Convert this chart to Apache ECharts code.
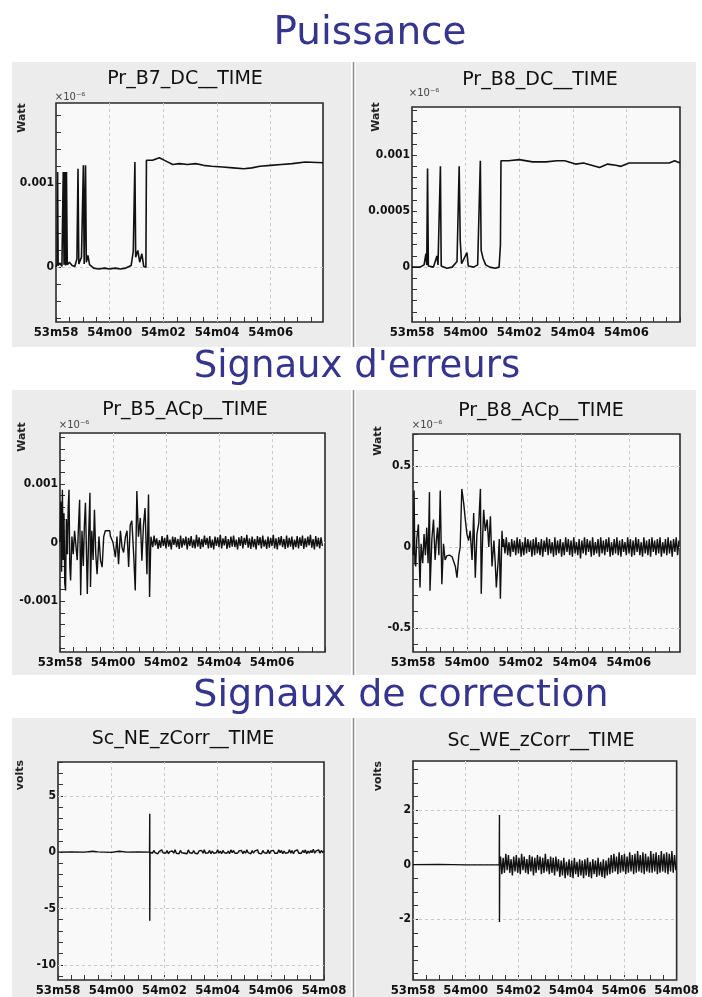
<!DOCTYPE html>
<html><head><meta charset="utf-8">
<script src="https://cdn.jsdelivr.net/npm/echarts@6/dist/echarts.min.js"></script>
<style>html,body{margin:0;padding:0;background:#fff}#c{width:702px;height:997px}</style>
</head><body><div id="c"></div>
<script>
// ---------- text ----------
const sectionTitles = ['Puissance', "Signaux d'erreurs", 'Signaux de correction'];
const panelTitles = ['Pr_B7_DC__TIME', 'Pr_B8_DC__TIME', 'Pr_B5_ACp__TIME', 'Pr_B8_ACp__TIME', 'Sc_NE_zCorr__TIME', 'Sc_WE_zCorr__TIME'];
const yUnits = ['Watt', 'Watt', 'Watt', 'Watt', 'volts', 'volts'];
const yMultiplier = ['\u00d710\u207b\u2076', '\u00d710\u207b\u2076', '\u00d710\u207b\u2076', '\u00d710\u207b\u2076', '', ''];
const timeTickLabels = ['53m58', '54m00', '54m02', '54m04', '54m06', '54m08'];

// ---------- axes (seconds after 53m58) ----------
const xMin = [0, 0, 0, 0, 0, 0];
const xMax = [9.95, 10, 10, 9.9, 10, 10];
const xLabelValues = [[0,2,4,6,8],[0,2,4,6,8],[0,2,4,6,8],[0,2,4,6,8],[0,2,4,6,8,10],[0,2,4,6,8,10]];
const xGridValues = [2, 4, 6, 8];
const xTickValues = [0,0.5,1,1.5,2,2.5,3,3.5,4,4.5,5,5.5,6,6.5,7,7.5,8,8.5,9,9.5,10];

const yMin = [-0.00065, -0.00049, -0.00187, -0.65, -11.35, -4.23];
const yMax = [0.00195, 0.00143, 0.00187, 0.70, 8.0, 3.8];
const yLabelValues = [[0, 0.001], [0, 0.0005, 0.001], [-0.001, 0, 0.001], [-0.5, 0, 0.5], [-10, -5, 0, 5], [-2, 0, 2]];
const yTickValues = [
  [-0.0006,-0.0004,-0.0002,0,0.0002,0.0004,0.0006,0.0008,0.001,0.0012,0.0014,0.0016,0.0018],
  [-0.0004,-0.0003,-0.0002,-0.0001,0,0.0001,0.0002,0.0003,0.0004,0.0005,0.0006,0.0007,0.0008,0.0009,0.001,0.0011,0.0012,0.0013,0.0014],
  [-0.0018,-0.0016,-0.0014,-0.0012,-0.001,-0.0008,-0.0006,-0.0004,-0.0002,0,0.0002,0.0004,0.0006,0.0008,0.001,0.0012,0.0014,0.0016,0.0018],
  [-0.6,-0.5,-0.4,-0.3,-0.2,-0.1,0,0.1,0.2,0.3,0.4,0.5,0.6,0.7],
  [-11,-10,-9,-8,-7,-6,-5,-4,-3,-2,-1,0,1,2,3,4,5,6,7,8],
  [-4,-3.5,-3,-2.5,-2,-1.5,-1,-0.5,0,0.5,1,1.5,2,2.5,3,3.5]
];

// ---------- series values: [seconds, value] ----------
const b7dc = [[0,0],[0.04,0.00003],[0.06,0.00113],[0.08,0.00002],[0.15,0.00005],[0.22,0.00001],[0.26,0.00002],[0.27,0.00113],[0.3,0.00003],[0.33,0.00113],[0.36,0.00002],[0.39,0.00113],[0.42,0.00003],[0.5,0.00006],[0.6,0.00002],[0.7,0.00001],[0.78,0.0001],[0.82,0.00117],[0.85,0.00004],[0.95,0.00012],[1.02,0.00121],[1.05,0.00004],[1.1,0.00121],[1.13,0.00006],[1.19,0.00014],[1.25,0.00003],[1.4,-0.00001],[1.6,-0.00002],[1.8,-0.00001],[2.0,-0.00002],[2.2,-0.00001],[2.4,-0.00002],[2.6,-0.00001],[2.8,0.00002],[2.88,0.00019],[2.94,0.00125],[2.97,0.00012],[3.05,0.0002],[3.12,0.00006],[3.2,0.00016],[3.27,0.00001],[3.35,0],[3.37,0.00127],[3.6,0.00127],[3.85,0.0013],[4.1,0.00126],[4.35,0.00122],[4.6,0.00123],[4.9,0.00122],[5.2,0.00123],[5.5,0.00121],[5.8,0.0012],[6.2,0.00119],[6.6,0.00118],[7.0,0.00117],[7.3,0.00118],[7.6,0.0012],[8.0,0.00121],[8.4,0.00122],[8.8,0.00123],[9.3,0.00125],[9.95,0.00124]];

const b8dc = [[0,0],[0.3,0],[0.45,0.00002],[0.52,0.00012],[0.55,0.00002],[0.58,0.00088],[0.61,0.00001],[0.8,0],[0.93,0.0001],[0.97,0.00002],[1.06,0.0009],[1.09,0.00001],[1.3,-0.00001],[1.5,0],[1.68,0.00005],[1.76,0.0009],[1.8,0.00024],[1.85,0.00003],[2.05,0.00013],[2.1,0.00001],[2.3,0],[2.45,0.00002],[2.55,0.00095],[2.58,0.00015],[2.65,0.00008],[2.75,0.00002],[2.9,0],[3.1,-0.00001],[3.25,0],[3.3,0.0002],[3.32,0.00095],[3.6,0.00095],[4.0,0.00096],[4.5,0.00094],[5.0,0.00094],[5.4,0.00095],[5.7,0.00095],[6.1,0.00092],[6.4,0.00093],[6.7,0.00091],[7.0,0.00089],[7.3,0.00092],[7.6,0.00091],[7.8,0.0009],[8.1,0.00093],[8.4,0.00093],[8.8,0.00093],[9.2,0.00093],[9.6,0.00093],[9.8,0.00095],[10,0.00093]];

const b5acEarly = [[0,0],[0.03,0.0007],[0.06,-0.0005],[0.09,0.0009],[0.12,-0.0003],[0.15,0.0005],[0.18,-0.0007],[0.21,-0.00082],[0.24,0.0004],[0.28,-0.0002],[0.31,0.0006],[0.34,0.0009],[0.37,-0.0004],[0.4,-0.00065],[0.45,0.0001],[0.5,-0.0002],[0.55,0.0002],[0.59,0],[0.65,-0.0003],[0.7,0.0003],[0.74,0.00073],[0.78,-0.0009],[0.83,0.0002],[0.88,-0.0004],[0.92,0.0003],[0.96,0.00068],[1.0,-0.0002],[1.03,-0.00088],[1.08,0.0001],[1.13,0.00085],[1.15,-0.00076],[1.2,0.0002],[1.25,-0.0003],[1.3,0.00056],[1.35,-0.0002],[1.4,-0.00054],[1.47,0.0001],[1.53,-0.00031],[1.59,-0.00042],[1.65,0.0001],[1.71,0.0002],[1.88,0.0002],[1.9,0.00011],[2.0,0],[2.09,-0.00025],[2.15,0.0001],[2.21,-0.00037],[2.28,0.0002],[2.34,-0.00008],[2.4,-0.00017],[2.47,0.0001],[2.53,0.0002],[2.59,-0.00042],[2.65,0.0003],[2.71,0.00037],[2.78,-0.0002],[2.84,-0.00082],[2.9,0.00088],[2.96,0.0001],[3.03,0.00042],[3.09,-0.00031],[3.15,0.0003],[3.21,0.00059],[3.28,-0.00054],[3.34,0.00082],[3.38,-0.00093],[3.43,0.0001]];
const b5acNoiseStart = 3.45;
const b5acNoise = [0.00009,-0.00008,0.00012,-0.00005,0.00007,-0.00011,0.00004,-0.00009,0.00011,-0.00006,0.00008,-0.0001,0.00013,-0.00007,0.00005,-0.00012,0.0001,-0.00004,0.00009,-0.00008,0.00006,-0.00011,0.00012,-0.00009,0.00007,-0.00005,0.0001,-0.00012,0.00008,-0.00006,0.00011,-0.00009,0.00005,-0.0001,0.00013,-0.00007,0.00009,-0.00011,0.00006,-0.00008,0.00012,-0.00004,0.00008,-0.0001,0.00011,-0.00009,0.00005,-0.00012,0.0001,-0.00006,0.00009,-0.00008,0.00013,-0.0001,0.00007,-0.00005,0.00011,-0.00011,0.00006,-0.00009,0.0001,-0.00007,0.00012,-0.00008,0.00005,-0.00012,0.00009,-0.00006,0.00011,-0.0001,0.00008,-0.00004,0.00013,-0.00009,0.00007,-0.00011,0.0001,-0.00008,0.00006,-0.00012,0.00011,-0.00005,0.00009,-0.0001,0.00012,-0.00007,0.00005,-0.00011,0.0001,-0.00009,0.00008,-0.00006,0.00013,-0.0001,0.00007,-0.00012,0.00009,-0.00005,0.00011,-0.00008,0.00006,-0.00011,0.00012,-0.00009,0.00008,-0.00007,0.0001,-0.00012,0.00005,-0.00008,0.00011,-0.0001,0.00009,-0.00006,0.00012,-0.00011,0.00007,-0.00008,0.0001,-0.00005,0.00013,-0.00009,0.00006,-0.00012,0.00011,-0.00007,0.00008,-0.0001,0.00009,-0.00006];

const b8acEarly = [[0,0],[0.02,-0.05],[0.04,0.35],[0.07,-0.1],[0.1,-0.12],[0.14,0.05],[0.2,0.14],[0.23,-0.05],[0.26,-0.25],[0.3,0.02],[0.36,-0.1],[0.41,0.08],[0.46,-0.05],[0.51,0.12],[0.56,-0.1],[0.61,0.34],[0.63,-0.27],[0.7,0.05],[0.76,0.17],[0.82,-0.08],[0.87,0.05],[0.91,0.12],[0.96,-0.05],[1.01,0.35],[1.07,-0.23],[1.13,0.02],[1.19,-0.08],[1.25,-0.055],[1.35,-0.05],[1.45,-0.06],[1.5,-0.055],[1.57,-0.12],[1.63,-0.19],[1.7,-0.05],[1.75,0],[1.81,0.36],[1.88,0.27],[1.94,0.17],[2.0,0.08],[2.06,0.04],[2.12,0.1],[2.19,-0.08],[2.25,0.21],[2.31,-0.19],[2.37,0.08],[2.44,0.15],[2.5,0.36],[2.53,-0.29],[2.58,0.05],[2.62,0.23],[2.68,0.1],[2.75,0.17],[2.81,0],[2.87,0.19],[2.93,-0.12],[3.0,0.04],[3.05,-0.1],[3.09,-0.25],[3.16,-0.08],[3.2,0.05],[3.24,-0.32],[3.3,0.1],[3.33,0]];
const b8acNoiseStart = 3.36;
const b8acNoise = [0.05,-0.04,0.06,-0.05,0.03,-0.06,0.05,-0.03,0.04,-0.05,0.06,-0.04,0.05,-0.06,0.03,-0.05,0.06,-0.04,0.05,-0.03,0.04,-0.06,0.05,-0.05,0.06,-0.04,0.03,-0.05,0.05,-0.06,0.04,-0.03,0.06,-0.05,0.05,-0.04,0.03,-0.06,0.06,-0.05,0.04,-0.04,0.05,-0.06,0.03,-0.05,0.06,-0.03,0.05,-0.05,0.04,-0.06,0.06,-0.04,0.03,-0.05,0.05,-0.07,0.04,-0.04,0.06,-0.05,0.05,-0.03,0.04,-0.06,0.06,-0.05,0.03,-0.04,0.05,-0.06,0.06,-0.04,0.04,-0.05,0.05,-0.03,0.06,-0.06,0.03,-0.05,0.05,-0.04,0.06,-0.05,0.04,-0.06,0.05,-0.03,0.03,-0.05,0.06,-0.04,0.05,-0.06,0.04,-0.05,0.06,-0.03,0.05,-0.05,0.03,-0.06,0.06,-0.04,0.04,-0.05,0.05,-0.06,0.06,-0.03,0.04,-0.05,0.05,-0.04,0.06,-0.06,0.03,-0.04,0.05,-0.05,0.06,-0.04,0.04,-0.06,0.05,-0.03,0.06,-0.05,0.04];

const neEarly = [[0,0],[0.5,0.02],[1.0,0],[1.3,0.08],[1.5,0.02],[2.0,-0.02],[2.3,0.08],[2.6,0],[3.0,0.02],[3.44,0],[3.45,3.4],[3.45,-6.1],[3.46,0]];
const neNoiseStart = 3.5;
const neNoise = [0.1,-0.1,0.15,-0.05,0.1,-0.15,0.05,-0.1,0.2,-0.05,0.1,-0.1,0.15,-0.15,0.05,-0.05,0.1,-0.1,0.2,-0.1,0.05,-0.15,0.15,-0.05,0.1,-0.1,0.05,-0.15,0.2,-0.05,0.1,-0.1,0.15,-0.1,0.05,-0.15,0.1,-0.05,0.15,-0.1,0.2,-0.1,0.05,-0.05,0.15,-0.15,0.1,-0.1,0.05,-0.05,0.2,-0.1,0.1,-0.15,0.15,-0.05,0.05,-0.1,0.1,-0.15,0.2,-0.05,0.15,-0.1,0.05,-0.1,0.1,-0.05,0.15,-0.15,0.1,-0.1,0.2,-0.05,0.05,-0.15,0.15,-0.1,0.1,-0.05,0.2,-0.1,0.05,-0.15,0.15,-0.05,0.1,-0.1,0.2,-0.15,0.1,-0.05,0.15,-0.1,0.05,-0.1,0.2,-0.05,0.15,-0.15,0.1,-0.1,0.05,-0.05,0.2,-0.1,0.15,-0.15,0.1,-0.05,0.2,-0.1,0.05,-0.1,0.15,-0.05,0.2,-0.15,0.1,-0.1,0.15,-0.05,0.25,-0.1,0.1,-0.05,0.2,-0.1,0.15,-0.05,0.1];

const weEarly = [[0,0],[1.0,0.01],[2.0,-0.01],[3.27,0],[3.28,1.82],[3.28,-2.1],[3.29,0]];
const weNoiseStart = 3.32;
const weNoise = [0.3,-0.35,0.25,-0.3,0.4,-0.2,0.35,-0.3,0.2,-0.4,0.3,-0.25,0.35,-0.3,0.25,-0.35,0.4,-0.2,0.3,-0.3,0.2,-0.35,0.35,-0.25,0.3,-0.4,0.25,-0.3,0.35,-0.2,0.3,-0.35,0.25,-0.3,0.4,-0.25,0.2,-0.35,0.3,-0.3,0.25,-0.4,0.3,-0.25,
0.2,-0.45,0.15,-0.4,0.25,-0.5,0.1,-0.4,0.2,-0.45,0.15,-0.5,0.25,-0.35,0.1,-0.45,0.2,-0.4,0.15,-0.5,0.2,-0.4,0.25,-0.45,0.1,-0.5,0.2,-0.35,0.15,-0.45,0.25,-0.4,0.1,-0.45,0.2,-0.5,0.15,-0.4,0.25,-0.35,
0.35,-0.3,0.4,-0.25,0.3,-0.35,0.45,-0.3,0.35,-0.25,0.4,-0.35,0.3,-0.3,0.45,-0.25,0.35,-0.35,0.4,-0.3,0.5,-0.25,0.35,-0.3,0.45,-0.35,0.4,-0.25,0.3,-0.3,0.5,-0.3,0.4,-0.25,0.45,-0.35,0.35,-0.3,0.5,-0.25,0.4,-0.3,0.45,-0.35,0.4,-0.25,0.5,-0.3,0.35,-0.2];
const sampleStep = 0.05;

// ---------- build ----------
function sampled(start, vals) { return vals.map((v, i) => [Math.round((start + i * sampleStep) * 1000) / 1000, v]); }
const seriesData = [
  b7dc,
  b8dc,
  b5acEarly.concat(sampled(b5acNoiseStart, b5acNoise)),
  b8acEarly.concat(sampled(b8acNoiseStart, b8acNoise)),
  neEarly.concat(sampled(neNoiseStart, neNoise)),
  weEarly.concat(sampled(weNoiseStart, weNoise))
];

const grids = [
  {left: 56, top: 103, width: 267, height: 219},
  {left: 412, top: 107, width: 268, height: 215},
  {left: 60, top: 433, width: 265, height: 219},
  {left: 413, top: 434, width: 267, height: 218},
  {left: 58, top: 762, width: 266, height: 225},
  {left: 413, top: 761, width: 268, height: 226}
];
const panelTitlePos = [[185, 79], [540, 80], [185, 410], [541, 411], [183, 739], [541, 741]];
const sectionTitlePos = [[370, 34], [357, 367], [401, 696]];
const sectionTitleSize = [39, 37, 38];
const unitPos = [[22, 118], [376, 117], [22, 437], [378, 441], [20, 775], [378, 776]];
const multPos = [[70, 97], [424, 93], [74, 425], [427, 425]];

const tickFont = "'DejaVu Sans Condensed','DejaVu Sans',sans-serif";
const blue = '#35358f';

const titles = [];
sectionTitles.forEach((t, i) => titles.push({
  text: t, left: sectionTitlePos[i][0], top: sectionTitlePos[i][1], padding: 0,
  textAlign: 'center', textVerticalAlign: 'middle',
  textStyle: {fontFamily: 'DejaVu Sans', fontSize: sectionTitleSize[i], fontWeight: 'normal', color: blue}
}));
panelTitles.forEach((t, i) => titles.push({
  text: t, left: panelTitlePos[i][0], top: panelTitlePos[i][1], padding: 0,
  textAlign: 'center', textVerticalAlign: 'middle',
  textStyle: {fontFamily: 'DejaVu Sans', fontSize: 19, fontWeight: 'normal', color: '#111'}
}));

const graphic = [];
const rows = [[62, 347], [390, 675], [718, 997]];
rows.forEach(r => {
  graphic.push({type: 'rect', z: -10, shape: {x: 12, y: r[0], width: 339, height: r[1] - r[0]}, style: {fill: '#ececec'}});
  graphic.push({type: 'rect', z: -10, shape: {x: 356, y: r[0], width: 340, height: r[1] - r[0]}, style: {fill: '#ececec'}});
  graphic.push({type: 'line', z: -9, shape: {x1: 353.5, y1: r[0], x2: 353.5, y2: r[1]}, style: {stroke: '#8a8a8a', lineWidth: 1.5}});
});
yUnits.forEach((u, i) => graphic.push({
  type: 'text', x: unitPos[i][0], y: unitPos[i][1], rotation: Math.PI / 2,
  style: {text: u, font: "bold 11px 'DejaVu Sans'", fill: '#222', align: 'center', verticalAlign: 'middle'}
}));
multPos.forEach((p, i) => graphic.push({
  type: 'text', x: p[0], y: p[1],
  style: {text: yMultiplier[i], font: "10px 'DejaVu Sans'", fill: '#444', align: 'center', verticalAlign: 'middle'}
}));

const option = {
  backgroundColor: '#ffffff',
  animation: false,
  title: titles,
  graphic: graphic,
  grid: grids.map(g => Object.assign({show: true, backgroundColor: '#f9f9f9', borderColor: '#2a2a2a', borderWidth: 1.6, containLabel: false}, g)),
  xAxis: grids.map((g, i) => ({
    type: 'value', gridIndex: i, min: xMin[i], max: xMax[i],
    axisLine: {show: false, onZero: false},
    axisTick: {show: true, inside: true, length: 5, customValues: xTickValues, lineStyle: {color: '#333'}},
    axisLabel: {customValues: xLabelValues[i], margin: 4, formatter: v => timeTickLabels[Math.round(v / 2)],
      fontFamily: tickFont, fontWeight: 'bold', fontSize: 13, color: '#111'},
    splitLine: {show: false}
  })),
  yAxis: grids.map((g, i) => ({
    type: 'value', gridIndex: i, min: yMin[i], max: yMax[i],
    axisLine: {show: false, onZero: false},
    axisTick: {show: true, inside: true, length: 5, customValues: yTickValues[i], lineStyle: {color: '#333'}},
    axisLabel: {customValues: yLabelValues[i], margin: 2,
      fontFamily: tickFont, fontWeight: 'bold', fontSize: 12, color: '#111'},
    splitLine: {show: false}
  })),
  series: seriesData.map((d, i) => ({
    type: 'line', xAxisIndex: i, yAxisIndex: i, data: d,
    showSymbol: false, symbol: 'none', clip: true,
    lineStyle: {color: '#111', width: i < 2 ? 1.6 : 1.4},
    z: 3,
    markLine: {
      silent: true, symbol: 'none', z: 1, animation: false,
      label: {show: false},
      lineStyle: {color: '#c9c9c9', type: [3, 3], width: 1},
      data: xGridValues.map(x => ({xAxis: x})).concat(yLabelValues[i].map(y => ({yAxis: y})))
    }
  }))
};

const chart = echarts.init(document.getElementById('c'), null, {renderer: 'canvas'});
chart.setOption(option);
</script></body></html>
